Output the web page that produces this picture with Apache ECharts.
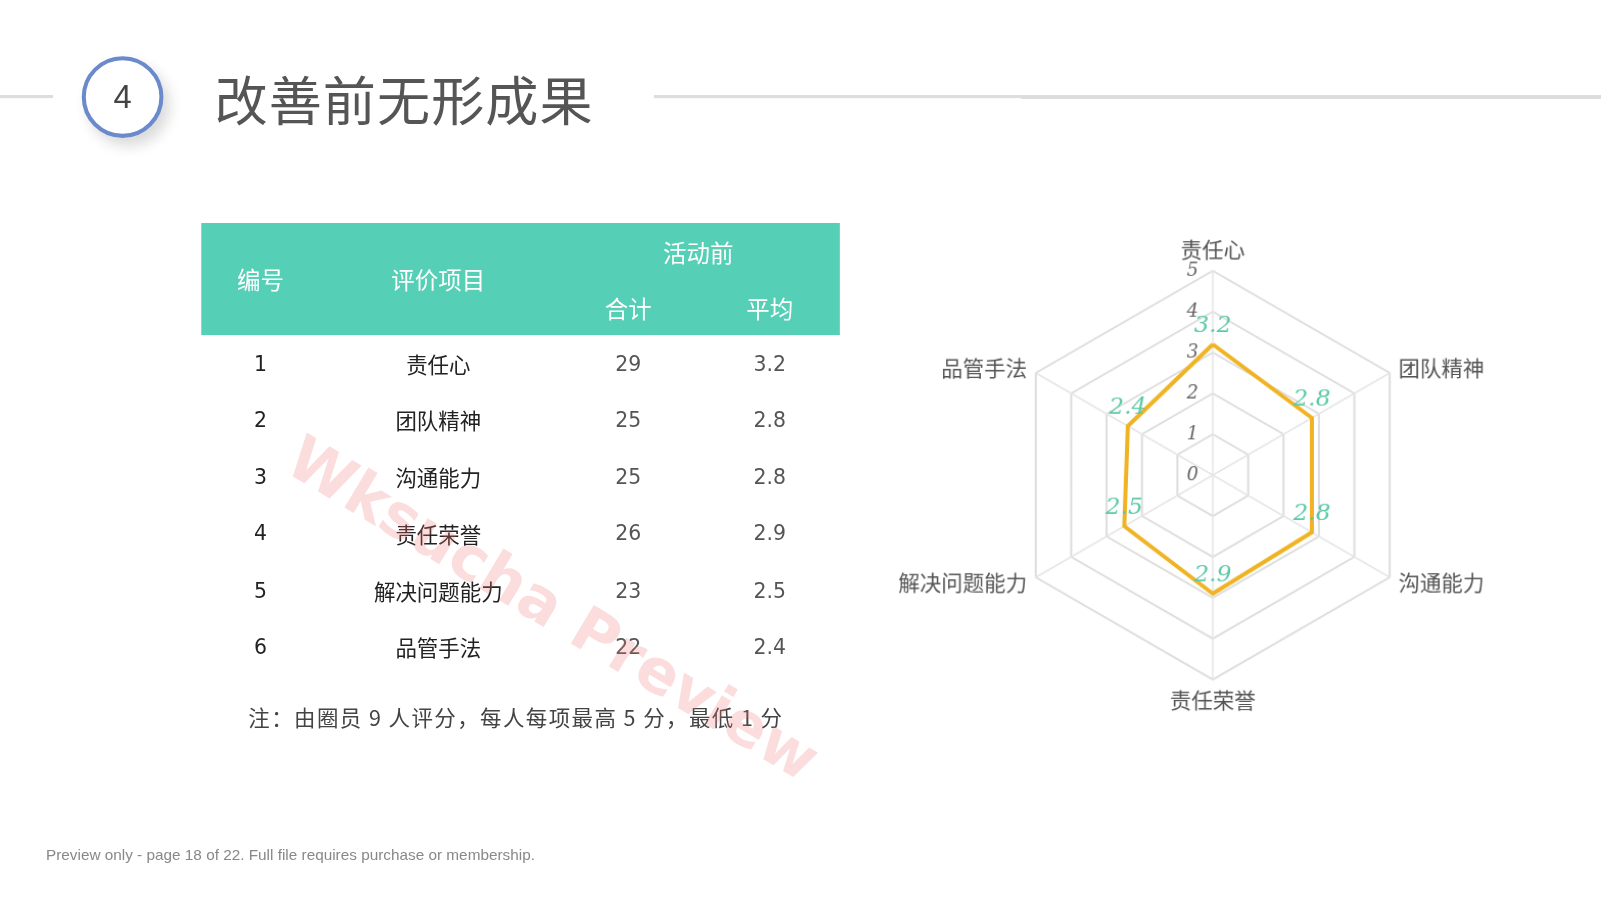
<!DOCTYPE html>
<html><head><meta charset="utf-8">
<script src="https://cdn.jsdelivr.net/npm/echarts@6/dist/echarts.min.js"></script>
<style>
body{margin:0;width:1601px;height:900px;overflow:hidden;background:#fff;font-family:"DejaVu Sans","Noto Sans CJK SC",sans-serif}
#page{position:absolute;left:0;top:0;width:1567px;height:881px;transform:scale(1.0217);transform-origin:0 0}
#chart{position:absolute;left:0;top:0;width:1567px;height:881px}
.abs{position:absolute}
#hdr{position:absolute;left:197px;top:218px;width:625px;height:110px;background:#55CFB5}
table{border-collapse:collapse;border-spacing:0;position:absolute;left:197px;top:218px;width:625px;font-size:20px;table-layout:fixed}
th{color:#fff;font-weight:normal;font-size:23px;font-family:"Noto Sans CJK SC";padding:0;border:0}
td{text-align:center;height:55.5px;color:#222;padding:0;border:0}
</style></head><body>
<div id="page">
<div id="chart"></div>
<div class="abs" style="left:0;top:93px;width:52px;height:3px;background:#ddd"></div>
<div class="abs" style="left:640px;top:93px;width:927px;height:3px;background:#ddd"></div>
<div class="abs" style="left:80px;top:55px;width:72px;height:72px;border:4px solid #6B8ACB;border-radius:50%;box-shadow:6px 8px 14px rgba(0,0,0,0.15);text-align:center;line-height:72px;font-size:32px;color:#444;font-family:'Liberation Sans'">4</div>
<div class="abs" style="left:210px;top:58px;font-size:52px;color:#555;font-family:'Noto Sans CJK SC';letter-spacing:1px">改善前无形成果</div>
<div id="hdr"></div>
<table id="tbl">
<colgroup><col style="width:116px"><col style="width:232px"><col style="width:140px"><col style="width:137px"></colgroup>
<tr><th rowspan="2" style="height:55px">编号</th><th rowspan="2">评价项目</th><th colspan="2" style="height:55px">活动前</th></tr>
<tr><th style="height:55px">合计</th><th>平均</th></tr>
</table>
<div class="abs" style="left:243px;top:687px;font-size:21px;color:#444;font-family:'Noto Sans CJK SC';letter-spacing:1.4px">注：由圈员 9 人评分，每人每项最高 5 分，最低 1 分</div>
<div class="abs" style="left:45px;top:828px;font-size:15px;color:#888;font-family:'Liberation Sans'">Preview only - page 18 of 22. Full file requires purchase or membership.</div>
<div class="abs" style="top:412px;left:305px;font-size:60px;font-weight:bold;color:rgba(240,120,120,0.25);transform:rotate(31deg);transform-origin:0 0;font-family:'DejaVu Sans';white-space:nowrap">Wksucha Preview</div>
</div>
<script>
const items = ['责任心', '团队精神', '沟通能力', '责任荣誉', '解决问题能力', '品管手法'];
const totals = [29, 25, 25, 26, 23, 22];
const avgs = [3.2, 2.8, 2.8, 2.9, 2.5, 2.4];

const tbl = document.getElementById('tbl');
items.forEach((name, i) => {
    const tr = document.createElement('tr');
    tr.innerHTML = `<td>${i + 1}</td><td style="font-family:'Noto Sans CJK SC';font-size:21px">${name}</td><td style="color:#555">${totals[i]}</td><td style="color:#555">${avgs[i].toFixed(1)}</td>`;
    tbl.appendChild(tr);
});

// 雷达图顺时针排列
const order = [0, 5, 4, 3, 2, 1];
const labelStyle = { show: true, color: '#5CC9A7', fontSize: 23, fontStyle: 'italic', fontFamily: 'DejaVu Serif', distance: 6 };
const chart = echarts.init(document.getElementById('chart'));
chart.setOption({
    radar: {
        center: [1187, 465],
        radius: 200,
        splitNumber: 5,
        shape: 'polygon',
        indicator: order.map(i => ({ name: items[i], min: 0, max: 5 })),
        axisName: { color: '#555', fontSize: 21, fontFamily: 'Noto Sans CJK SC' },
        nameGap: 10,
        splitArea: { show: false },
        splitLine: { lineStyle: { color: '#ddd', width: 2 } },
        axisLine: { lineStyle: { color: '#e6e6e6', width: 1.5 } }
    },
    polar: { center: [1187, 465], radius: 200 },
    angleAxis: { show: false, min: 0, max: 360 },
    radiusAxis: {
        min: 0, max: 5, interval: 1,
        axisLine: { show: false }, axisTick: { show: false }, splitLine: { show: false },
        axisLabel: { color: '#666', fontSize: 18, fontStyle: 'italic', margin: 14, fontFamily: 'DejaVu Serif' }
    },
    series: [{
        type: 'radar',
        symbol: 'circle',
        symbolSize: 1,
        lineStyle: { color: '#F0B323', width: 4 },
        itemStyle: { color: '#F0B323' },
        label: labelStyle,
        data: [{ value: order.map(i => avgs[i]), label: labelStyle }]
    }]
});
</script>
</body></html>
